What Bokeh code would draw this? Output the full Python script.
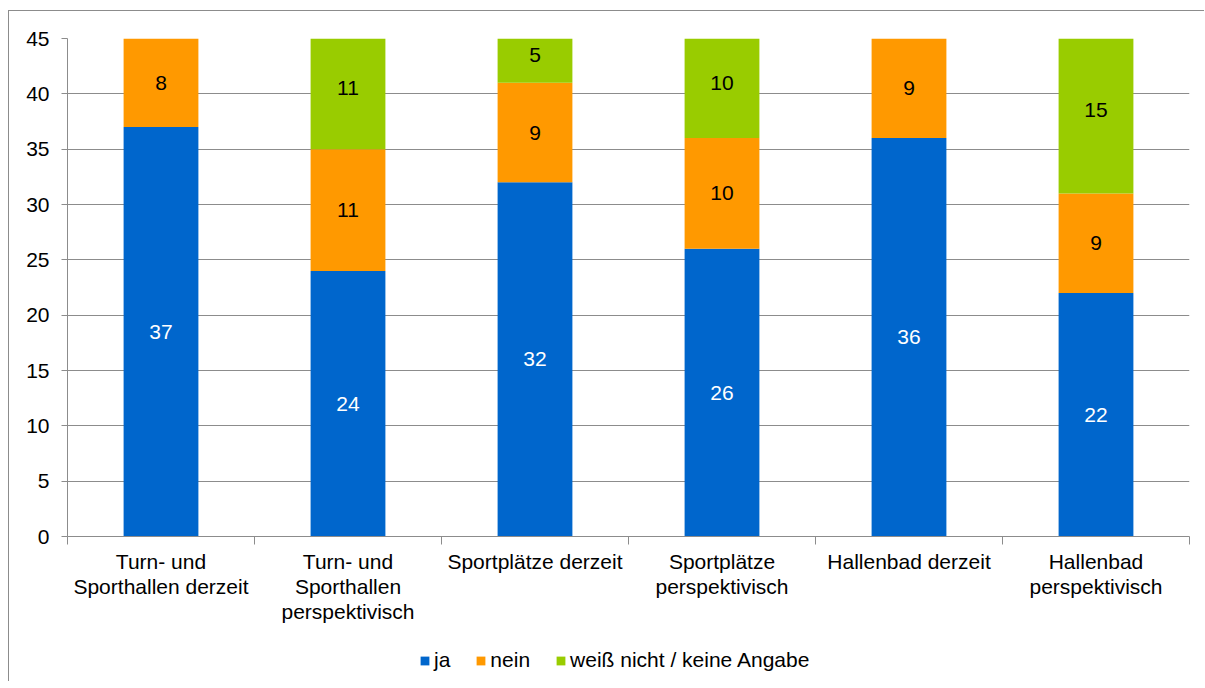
from bokeh.plotting import figure
from bokeh.models import ColumnDataSource, Range1d, FixedTicker
from bokeh.layouts import column
from bokeh.core.properties import value
from bokeh.embed import file_html
from bokeh.resources import INLINE

categories = ["Turn- und\nSporthallen derzeit", "Turn- und\nSporthallen\nperspektivisch",
              "Sportplätze derzeit", "Sportplätze\nperspektivisch",
              "Hallenbad derzeit", "Hallenbad\nperspektivisch"]
ja = [37, 24, 32, 26, 36, 22]
nein = [8, 11, 9, 10, 9, 9]
weiss = [0, 11, 5, 10, 0, 15]
series_names = ["ja", "nein", "weiß nicht / keine Angabe"]
colors = ["#0066CC", "#FF9900", "#99CC00"]
y_ticks = [0, 5, 10, 15, 20, 25, 30, 35, 40, 45]

FONT = "Liberation Sans"
GRAY = "#8c8c8c"

xs = [i + 0.5 for i in range(len(categories))]
source = ColumnDataSource(dict(x=xs, ja=ja, nein=nein, weiss=weiss))

p = figure(width=1195, height=620, output_backend="svg", toolbar_location=None,
           x_range=Range1d(0, len(categories)), y_range=Range1d(0, 45),
           min_border_left=58, min_border_right=15, min_border_top=27, min_border_bottom=0,
           frame_width=1122, frame_height=498)
p.outline_line_color = None

p.vbar_stack(["ja", "nein", "weiss"], x="x", width=0.4, source=source,
             color=colors, line_color=None)

# data labels
lx, ly, lt, lc = [], [], [], []
for i in range(len(categories)):
    base = 0
    for vals, col in ((ja, "white"), (nein, "black"), (weiss, "black")):
        v = vals[i]
        if v > 0:
            lx.append(xs[i]); ly.append(base + v / 2); lt.append(str(v)); lc.append(col)
        base += v
p.text(x=lx, y=ly, text=lt, text_color=lc, text_align="center", text_baseline="middle",
       text_font=value(FONT), text_font_size="21px")

# axes
p.xgrid.visible = False
p.ygrid.grid_line_color = GRAY
p.ygrid.grid_line_width = 1
p.yaxis.ticker = FixedTicker(ticks=y_ticks)
p.yaxis.minor_tick_line_color = None
p.yaxis.major_tick_in = 0
p.yaxis.major_tick_out = 6
p.yaxis.major_tick_line_color = GRAY
p.yaxis.axis_line_color = GRAY
p.yaxis.major_label_standoff = 12
p.yaxis.major_label_text_font = FONT
p.yaxis.major_label_text_font_size = "21px"
p.yaxis.major_label_text_color = "black"

p.xaxis.ticker = FixedTicker(ticks=xs, minor_ticks=list(range(len(categories) + 1)))
p.xaxis.major_label_overrides = {x: c for x, c in zip(xs, categories)}
p.xaxis.major_tick_line_color = None
p.xaxis.minor_tick_in = 0
p.xaxis.minor_tick_out = 8
p.xaxis.minor_tick_line_color = GRAY
p.xaxis.axis_line_color = GRAY
p.xaxis.major_label_standoff = 5
p.xaxis.major_label_text_font = FONT
p.xaxis.major_label_text_font_size = "21px"
p.xaxis.major_label_text_color = "black"
p.xaxis.major_label_text_line_height = 1.1
p.xaxis.major_label_text_align = "center"

# legend strip (same data, bars kept out of view)
lf = figure(width=1195, height=55, output_backend="svg", toolbar_location=None,
            x_range=Range1d(0, len(categories)), y_range=Range1d(1000, 1001),
            min_border=0, outline_line_color=None)
lf.axis.visible = False
lf.grid.visible = False
lf.vbar_stack(["ja", "nein", "weiss"], x="x", width=0.4, source=source,
              color=colors, line_color=None, legend_label=series_names)
lg = lf.legend[0]
lg.orientation = "horizontal"
lg.location = (352, 9)
lg.border_line_color = None
lg.background_fill_alpha = 0
lg.padding = 0
lg.margin = 0
lg.spacing = 25
lg.glyph_width = 11
lg.glyph_height = 11
lg.label_standoff = 4
lg.label_width = 0
lg.label_text_font = FONT
lg.label_text_font_size = "21px"
lg.label_text_color = "black"

layout = column(p, lf, spacing=0)
layout.styles = {"border-left": "1px solid #8c8c8c", "border-top": "1px solid #8c8c8c",
                 "margin-left": "8px", "margin-top": "10px"}

open("out.html", "w").write(file_html(layout, INLINE))
